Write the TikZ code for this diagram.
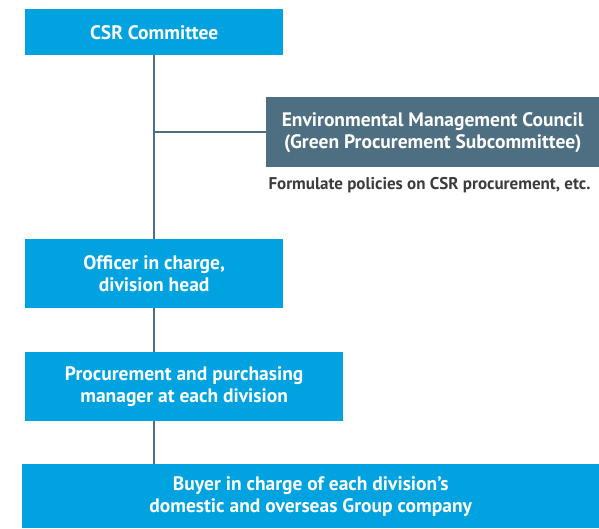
\documentclass[tikz,border=0pt]{standalone}
\usepackage{fontspec}
\setmainfont{PT Sans}
\usepackage{tikz}
\usepackage{xcolor}
\definecolor{boxblue}{HTML}{00A3E0}
\definecolor{slate}{HTML}{4E6E81}
\definecolor{notegray}{HTML}{3C3C3C}
\tikzset{
  orgbox/.style={fill=boxblue, text=white, anchor=north west, inner sep=0pt,
    align=center, font=\fontsize{19.5}{22}\selectfont\bfseries},
  councilbox/.style={orgbox, fill=slate},
  link/.style={slate, line width=2.5pt}
}

\begin{document}
\begin{tikzpicture}[x=1pt, y=-1pt]
\useasboundingbox (0,0) rectangle (599,528);
\node[orgbox, minimum width=258pt, minimum height=46pt] (csr) at (25,9) {CSR Committee};
\node[councilbox, minimum width=333pt, minimum height=70pt] (council) at (266,97)
  {Environmental Management Council\\(Green Procurement Subcommittee)};
\node[text=notegray, font=\fontsize{17}{20}\selectfont\bfseries, anchor=east] (note) at (594,185)
  {Formulate policies on CSR procurement, etc.};
\node[orgbox, minimum width=258pt, minimum height=69pt] (officer) at (25,239)
  {Officer in charge,\\division head};
\node[orgbox, minimum width=318pt, minimum height=69pt] (manager) at (25,352)
  {Procurement and purchasing\\manager at each division};
\node[orgbox, minimum width=577pt, minimum height=64pt] (buyer) at (22,464)
  {Buyer in charge of each division's\\domestic and overseas Group company};
% connectors
\draw[link] (csr.south) -- (officer.north);
\draw[link] (council.west) -- (council.west -| csr.south);
\draw[link] (officer.south) -- (officer.south |- manager.north);
\draw[link] (officer.south |- manager.south) -- (officer.south |- buyer.north);
\end{tikzpicture}
\end{document}
